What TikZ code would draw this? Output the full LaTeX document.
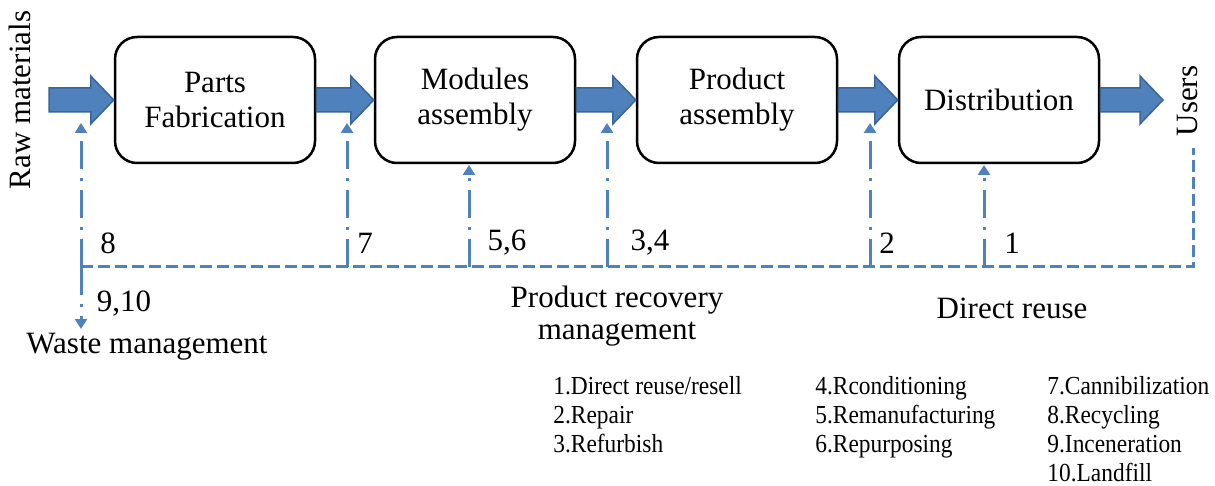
\documentclass[tikz,border=0pt]{standalone}
\usepackage{fontspec}
\setmainfont{Liberation Serif}
\usetikzlibrary{arrows.meta,calc}
\definecolor{lineblue}{HTML}{4F81BD}
\definecolor{arrowedge}{HTML}{3A6597}
\newcommand\blockarr[2]{%
  \draw[barrow] ($(#1)+(0,-12)$) -- ($(#2)+(-23,-12)$) -- ($(#2)+(-23,-24)$) -- (#2)
    -- ($(#2)+(-23,24)$) -- ($(#2)+(-23,12)$) -- ($(#1)+(0,12)$) -- cycle;}
\newcommand\condensed[1]{\scalebox{0.9}[1]{#1}}
\begin{document}
\begin{tikzpicture}[x=0.5pt,y=-0.5pt,
  stagebox/.style={draw=black, line width=1.25pt, rounded corners=11pt, fill=white,
    minimum width=100pt, minimum height=63pt, align=center, inner sep=0pt,
    font=\fontsize{15.5}{17.5}\selectfont},
  bigtxt/.style={font=\fontsize{15.5}{16}\selectfont, align=center, inner sep=0pt},
  listtxt/.style={font=\fontsize{13}{14}\selectfont, anchor=base west, inner sep=0pt},
  dd/.style={draw=lineblue, line width=1.5pt,
    dash pattern=on 14pt off 4.5pt on 1.5pt off 4.5pt,
    -{Triangle[length=5pt,width=6pt]}},
  hd/.style={draw=lineblue, line width=1.5pt, dash pattern=on 6pt off 2.5pt},
  barrow/.style={fill=lineblue, draw=arrowedge, line width=0.75pt, line join=miter}]
\fill[white] (0,0) rectangle (1215,486);
\useasboundingbox (0,0) rectangle (1215,486);

% junction coordinates on the recovery line
\coordinate (j8) at (81,267);
\coordinate (j7) at (347,267);
\coordinate (j56) at (469,267);
\coordinate (j34) at (607,267);
\coordinate (j2) at (870,267);
\coordinate (j1) at (984,267);
\coordinate (ju) at (1193,267);
\coordinate (uu) at (1193,148);
% arrow tips
\coordinate (t8) at (81,123);
\coordinate (t7) at (347,123);
\coordinate (t56) at (469,165);
\coordinate (t34) at (607,123);
\coordinate (t2) at (870,123);
\coordinate (t1) at (984,165);
\coordinate (tw) at (81,329);
% block arrow ends
\coordinate (ra) at (49,100);
\coordinate (ue) at (1163,100);

% recovery network
\draw[hd] (j8) -- (ju) -- (uu);
\draw[dd] (j8) -- (t8);
\draw[dd] (j7) -- (t7);
\draw[dd] (j56) -- (t56);
\draw[dd] (j34) -- (t34);
\draw[dd] (j2) -- (t2);
\draw[dd] (j1) -- (t1);
\draw[dd] (j8) -- (tw);

% stage boxes
\node[stagebox] (b1) at (215,100) {Parts\\Fabrication};
\node[stagebox] (b2) at (475,100) {Modules\\assembly};
\node[stagebox] (b3) at (737,100) {Product\\assembly};
\node[stagebox] (b4) at (999,100) {Distribution};

% block arrows
\blockarr{ra}{b1.west}
\blockarr{b1.east}{b2.west}
\blockarr{b2.east}{b3.west}
\blockarr{b3.east}{b4.west}
\blockarr{b4.east}{ue}

% side labels
\node[bigtxt, rotate=90] (raw) at (20,100) {Raw materials};
\node[bigtxt, rotate=90] (users) at (1187,101) {Users};

% numbers
\node[bigtxt] (n8) at (108,243) {8};
\node[bigtxt] (n7) at (365,243) {7};
\node[bigtxt] (n56) at (507,243) {5,6};
\node[bigtxt] (n34) at (650,243) {3,4};
\node[bigtxt] (n2) at (887,243) {2};
\node[bigtxt] (n1) at (1012,243) {1};
\node[bigtxt] (n910) at (124,304) {9,10};

% captions
\node[bigtxt] (waste) at (147,347) {Waste management};
\node[bigtxt] (prm) at (617,316) {Product recovery\\management};
\node[bigtxt] (dr) at (1012,308) {Direct reuse};

% legend
\node[listtxt] (l1) at (553,394) {\condensed{1.Direct reuse/resell}};
\node[listtxt] (l2) at (553,423) {\condensed{2.Repair}};
\node[listtxt] (l3) at (553,452) {\condensed{3.Refurbish}};
\node[listtxt] (l4) at (815,394) {\condensed{4.Rconditioning}};
\node[listtxt] (l5) at (815,423) {\condensed{5.Remanufacturing}};
\node[listtxt] (l6) at (815,452) {\condensed{6.Repurposing}};
\node[listtxt] (l7) at (1047,394) {\condensed{7.Cannibilization}};
\node[listtxt] (l8) at (1047,423) {\condensed{8.Recycling}};
\node[listtxt] (l9) at (1047,452) {\condensed{9.Inceneration}};
\node[listtxt] (l10) at (1047,481) {\condensed{10.Landfill}};
\end{tikzpicture}
\end{document}
